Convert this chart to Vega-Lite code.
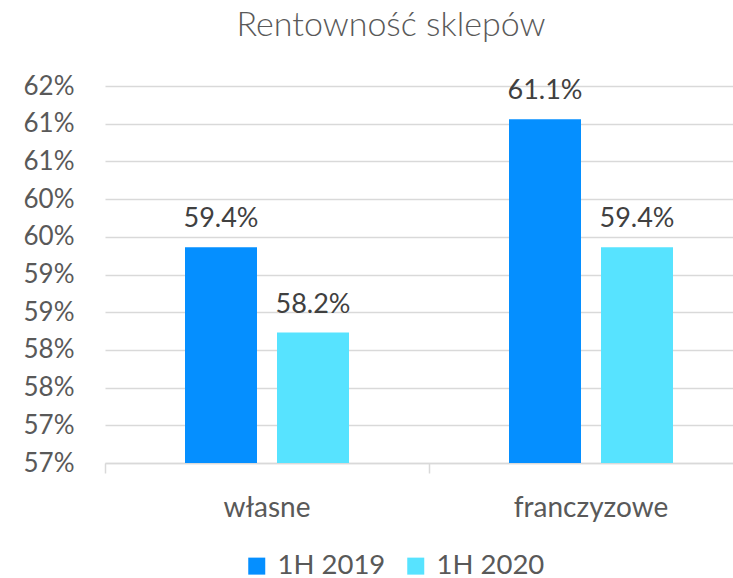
{
  "$schema": "https://vega.github.io/schema/vega-lite/v6.json",
  "autosize": {"type": "none"},
  "width": 628,
  "height": 377,
  "padding": {"left": 105, "top": 86, "right": 0, "bottom": 115},
  "background": "white",
  "config": {
    "view": {"stroke": null},
    "font": "Lato"
  },
  "title": {
    "text": "Rentowność sklepów",
    "font": "Lato",
    "fontSize": 34,
    "fontWeight": 300,
    "color": "#595959",
    "anchor": "middle",
    "frame": "group",
    "dx": -28,
    "offset": 30
  },
  "data": {
    "values": [
      {"typ": "własne", "okres": "1H 2019", "value": 0.5936},
      {"typ": "własne", "okres": "1H 2020", "value": 0.5823},
      {"typ": "franczyzowe", "okres": "1H 2019", "value": 0.6106},
      {"typ": "franczyzowe", "okres": "1H 2020", "value": 0.5936}
    ]
  },
  "encoding": {
    "x": {
      "field": "typ",
      "type": "nominal",
      "sort": ["własne", "franczyzowe"],
      "scale": {"range": [0, 648], "paddingInner": 0, "paddingOuter": 0},
      "axis": {
        "title": null,
        "labelAngle": 0,
        "bandPosition": 0,
        "labelFontSize": 28,
        "labelColor": "#595959",
        "labelFont": "Lato",
        "labelBaseline": "alphabetic",
        "labelPadding": 43,
        "tickSize": 10,
        "tickColor": "#d9d9d9",
        "tickWidth": 1.5,
        "domainColor": "#d9d9d9",
        "domainWidth": 1.5,
        "grid": false
      }
    },
    "xOffset": {
      "field": "okres",
      "type": "nominal",
      "sort": ["1H 2019", "1H 2020"],
      "scale": {"paddingInner": 0.2174, "paddingOuter": 0.8696}
    },
    "y": {
      "field": "value",
      "type": "quantitative",
      "scale": {"domain": [0.565, 0.615], "zero": false, "nice": false},
      "axis": {
        "title": null,
        "values": [0.565, 0.57, 0.575, 0.58, 0.585, 0.59, 0.595, 0.6, 0.605, 0.61, 0.615],
        "labelExpr": "round(datum.value * 100 + 0.000001) + '%'",
        "labelFontSize": 26,
        "labelColor": "#595959",
        "labelFont": "Lato",
        "labelPadding": 31,
        "ticks": false,
        "domain": false,
        "grid": true,
        "gridColor": "#d9d9d9",
        "gridWidth": 1.5
      }
    }
  },
  "layer": [
    {
      "mark": {"type": "bar", "clip": true},
      "encoding": {
        "color": {
          "field": "okres",
          "type": "nominal",
          "sort": ["1H 2019", "1H 2020"],
          "scale": {"domain": ["1H 2019", "1H 2020"], "range": ["#058FFF", "#57E3FF"]},
          "legend": {
            "title": null,
            "orient": "none",
            "direction": "horizontal",
            "legendX": 138,
            "legendY": 466,
            "symbolType": "square",
            "symbolSize": 289,
            "symbolStrokeWidth": 0,
            "labelFontSize": 27.5,
            "labelFont": "Lato",
            "labelColor": "#595959",
            "labelOffset": 7,
            "columnPadding": 16,
            "labelLimit": 300
          }
        }
      }
    },
    {
      "mark": {
        "type": "text",
        "baseline": "alphabetic",
        "dy": -20,
        "fontSize": 27,
        "font": "Lato",
        "color": "#404040"
      },
      "encoding": {
        "text": {"field": "value", "type": "quantitative", "format": ".1%"}
      }
    }
  ]
}
